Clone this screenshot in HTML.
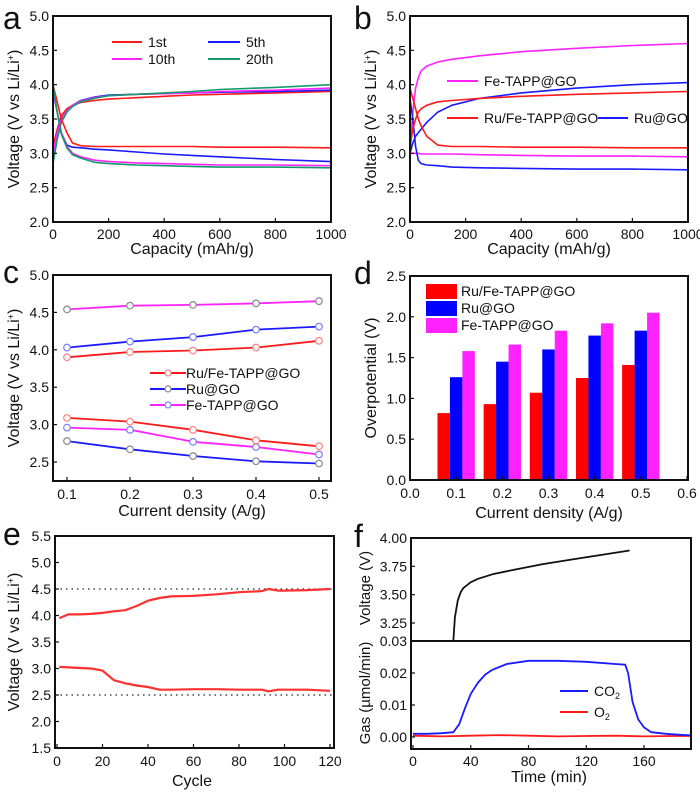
<!DOCTYPE html>
<html><head><meta charset="utf-8">
<style>
html,body{margin:0;padding:0;background:#fff;}
svg{display:block;font-family:"Liberation Sans",Arial,sans-serif;}
</style></head>
<body>
<svg id="fig" width="700" height="792" viewBox="0 0 700 792" xmlns="http://www.w3.org/2000/svg"></svg>
<script>
// ---- Panel a data (capacity mAh/g, voltage V)
const aCap = [0, 15, 30, 50, 70, 100, 150, 200, 300, 400, 500, 600, 800, 1000];
const a1stDis = [4.0, 3.75, 3.5, 3.3, 3.15, 3.11, 3.1, 3.1, 3.1, 3.1, 3.1, 3.09, 3.09, 3.08];
const a1stChg = [3.1, 3.35, 3.55, 3.65, 3.7, 3.74, 3.77, 3.79, 3.81, 3.83, 3.85, 3.86, 3.88, 3.9];
const a5thDis = [3.9, 3.6, 3.3, 3.12, 3.09, 3.08, 3.06, 3.05, 3.02, 2.99, 2.97, 2.95, 2.91, 2.88];
const a5thChg = [3.0, 3.3, 3.5, 3.62, 3.7, 3.77, 3.82, 3.85, 3.86, 3.87, 3.88, 3.89, 3.9, 3.92];
const a10thDis = [3.95, 3.6, 3.3, 3.1, 3.0, 2.95, 2.9, 2.88, 2.86, 2.85, 2.84, 2.83, 2.83, 2.82];
const a10thChg = [3.0, 3.3, 3.5, 3.62, 3.7, 3.76, 3.81, 3.84, 3.86, 3.87, 3.88, 3.9, 3.92, 3.95];
const a20thDis = [4.0, 3.6, 3.28, 3.08, 2.98, 2.93, 2.87, 2.85, 2.83, 2.82, 2.81, 2.8, 2.8, 2.79];
const a20thChg = [2.85, 3.2, 3.45, 3.6, 3.68, 3.75, 3.8, 3.84, 3.86, 3.88, 3.9, 3.93, 3.96, 4.0];
// ---- Panel b data
const bCap = [0, 10, 20, 30, 40, 60, 100, 150, 250, 400, 600, 800, 1000];
const bFeChg = [3.0, 3.6, 3.95, 4.1, 4.2, 4.27, 4.33, 4.37, 4.42, 4.48, 4.53, 4.57, 4.6];
const bFeDis = [3.0, 3.0, 3.0, 3.0, 2.99, 2.99, 2.99, 2.99, 2.98, 2.97, 2.96, 2.96, 2.95];
const bRuFeChg = [3.1, 3.35, 3.5, 3.6, 3.65, 3.7, 3.75, 3.77, 3.8, 3.83, 3.86, 3.88, 3.9];
const bRuFeDis = [3.95, 3.8, 3.65, 3.5, 3.4, 3.25, 3.12, 3.1, 3.1, 3.09, 3.09, 3.08, 3.08];
const bRuChg = [3.0, 3.15, 3.25, 3.3, 3.35, 3.45, 3.6, 3.7, 3.8, 3.88, 3.95, 4.0, 4.03];
const bRuDis = [3.8, 3.5, 3.1, 2.9, 2.85, 2.83, 2.82, 2.8, 2.79, 2.78, 2.77, 2.77, 2.76];
// ---- Panel c data
const cDensity = [0.1, 0.2, 0.3, 0.4, 0.5];
const cRuFeChg = [3.90, 3.97, 3.99, 4.03, 4.12];
const cRuFeDis = [3.09, 3.04, 2.93, 2.79, 2.71];
const cRuChg = [4.03, 4.11, 4.17, 4.27, 4.31];
const cRuDis = [2.78, 2.67, 2.58, 2.51, 2.48];
const cFeChg = [4.54, 4.59, 4.60, 4.62, 4.65];
const cFeDis = [2.96, 2.93, 2.77, 2.70, 2.60];
// ---- Panel d data
const dDensity = [0.1, 0.2, 0.3, 0.4, 0.5];
const dRuFe = [0.82, 0.93, 1.07, 1.25, 1.41];
const dRu = [1.26, 1.45, 1.60, 1.77, 1.83];
const dFe = [1.58, 1.66, 1.83, 1.92, 2.05];
// ---- Panel e data
const eCycle = [1, 5, 10, 15, 20, 25, 30, 35, 40, 45, 50, 60, 70, 80, 90, 93, 97, 100, 110, 120];
const eCharge = [3.95, 4.02, 4.02, 4.03, 4.05, 4.08, 4.1, 4.18, 4.28, 4.33, 4.36, 4.37, 4.4, 4.44, 4.46, 4.5, 4.47, 4.47, 4.48, 4.5];
const eDischarge = [3.03, 3.02, 3.01, 3.0, 2.96, 2.78, 2.72, 2.68, 2.65, 2.6, 2.6, 2.61, 2.61, 2.6, 2.6, 2.57, 2.6, 2.6, 2.6, 2.58];
// ---- Panel f data
const fTimeV = [28, 29, 31, 33, 35, 40, 45, 55, 70, 90, 110, 130, 150];
const fVoltage = [3.1, 3.3, 3.45, 3.52, 3.56, 3.61, 3.64, 3.68, 3.72, 3.77, 3.81, 3.85, 3.89];
const fTimeG = [0, 10, 20, 28, 32, 36, 40, 45, 50, 55, 65, 80, 100, 120, 140, 147, 149, 152, 156, 160, 165, 175, 185, 193];
const fCO2 = [0.001, 0.001, 0.0012, 0.0015, 0.004, 0.009, 0.0135, 0.017, 0.0195, 0.021, 0.0228, 0.0238, 0.0238, 0.0235, 0.0228, 0.0226, 0.02, 0.011, 0.0055, 0.003, 0.0015, 0.001, 0.0007, 0.0005];
const fTimeO = [0, 20, 40, 60, 80, 100, 120, 140, 160, 180, 193];
const fO2 = [0.0004, 0.0002, 0.0004, 0.0006, 0.0004, 0.0002, 0.0003, 0.0004, 0.0002, 0.0003, 0.0003];

const RED = '#ff1a1a', BLUE = '#1a1aff', MAG = '#ff22ff', GRN = '#159a6a';
const TICK = 14, TITLE = 16;
const svg = document.getElementById('fig');
const NS = 'http://www.w3.org/2000/svg';
function mk(tag, attrs, parent) {
  const e = document.createElementNS(NS, tag);
  for (const k in attrs) e.setAttribute(k, attrs[k]);
  (parent || svg).appendChild(e);
  return e;
}
function lin(d0, d1, r0, r1) { return v => r0 + (v - d0) / (d1 - d0) * (r1 - r0); }
function txt(x, y, s, size, anchor, name, parent, rot) {
  const t = mk('text', {x: x, y: y, 'font-size': size, 'text-anchor': anchor || 'middle', fill: '#111'}, parent);
  if (rot) t.setAttribute('transform', 'rotate(-90 ' + x + ' ' + y + ')');
  t.innerHTML = s;
  
  
  return t;
}
function axesBox(L, T, R, B, name) {
  const r = mk('rect', {x: L, y: T, width: R - L, height: B - T, fill: 'none', stroke: '#111', 'stroke-width': 2});
  
  
}
function yTicks(vals, labels, sy, L, R, name) {
  vals.forEach((v, i) => {
    const y = sy(v);
    mk('line', {x1: L, x2: L + 4, y1: y, y2: y, stroke: '#111', 'stroke-width': 1.2});
    txt(L - 4, y + 5, labels[i], TICK, 'end', name);
  });
}
function xTicks(vals, labels, sx, B, ly, name) {
  vals.forEach((v, i) => {
    const x = sx(v);
    mk('line', {x1: x, x2: x, y1: B, y2: B - 4, stroke: '#111', 'stroke-width': 1.2});
    txt(x, ly, labels[i], TICK, 'middle', name);
  });
}
function poly(xs, ys, sx, sy, color, w, name) {
  const pts = xs.map((x, i) => sx(x).toFixed(1) + ',' + sy(ys[i]).toFixed(1)).join(' ');
  const p = mk('polyline', {points: pts, fill: 'none', stroke: color, 'stroke-width': w || 1.6, 'stroke-linejoin': 'round'});
  
  
  return p;
}
function legLine(x1, x2, y, color, name) {
  const l = mk('line', {x1: x1, x2: x2, y1: y, y2: y, stroke: color, 'stroke-width': 2});
  
  
}
function panelLabel(x, y, s, name) {
  txt(x, y, s, 32, 'start', name);
}
const vTicks = [2.0, 2.5, 3.0, 3.5, 4.0, 4.5, 5.0];
const vTickLabels = ['2.0', '2.5', '3.0', '3.5', '4.0', '4.5', '5.0'];
const capTicks = [0, 200, 400, 600, 800, 1000];
const capTickLabels = ['0', '200', '400', '600', '800', '1000'];
const YT = 'Voltage (V vs Li/Li<tspan baseline-shift="super" font-size="9">+</tspan>)';

// ===== Panel a
(function () {
  const L = 53, R = 331, T = 16, B = 222;
  const sx = lin(0, 1000, L, R), sy = lin(2, 5, B, T);
  panelLabel(3, 29, 'a', 'panel-a-label');
  poly(aCap, a1stChg, sx, sy, RED, 1.6, 'series-1st-charge');
  poly(aCap, a5thChg, sx, sy, BLUE, 1.6, 'series-5th-charge');
  poly(aCap, a10thChg, sx, sy, MAG, 1.6, 'series-10th-charge');
  poly(aCap, a20thChg, sx, sy, GRN, 1.6, 'series-20th-charge');
  poly(aCap, a1stDis, sx, sy, RED, 1.6, 'series-1st-discharge');
  poly(aCap, a5thDis, sx, sy, BLUE, 1.6, 'series-5th-discharge');
  poly(aCap, a10thDis, sx, sy, MAG, 1.6, 'series-10th-discharge');
  poly(aCap, a20thDis, sx, sy, GRN, 1.6, 'series-20th-discharge');
  axesBox(L, T, R, B, 'panel-a-axes');
  yTicks(vTicks, vTickLabels, sy, L, R, 'y-tick-label');
  xTicks(capTicks, capTickLabels, sx, B, 239, 'x-tick-label');
  txt(192, 254, 'Capacity (mAh/g)', TITLE, 'middle', 'x-axis-title');
  txt(19, 119, YT, TITLE, 'middle', 'y-axis-title', null, true);
  legLine(112, 142, 42, RED, 'legend-1st-line'); txt(148, 47, '1st', TICK, 'start', 'legend-1st');
  legLine(208, 240, 42, BLUE, 'legend-5th-line'); txt(246, 47, '5th', TICK, 'start', 'legend-5th');
  legLine(112, 142, 59, MAG, 'legend-10th-line'); txt(148, 64, '10th', TICK, 'start', 'legend-10th');
  legLine(208, 240, 59, GRN, 'legend-20th-line'); txt(246, 64, '20th', TICK, 'start', 'legend-20th');
})();

// ===== Panel b
(function () {
  const L = 410, R = 688, T = 16, B = 222;
  const sx = lin(0, 1000, L, R), sy = lin(2, 5, B, T);
  panelLabel(354, 29, 'b', 'panel-b-label');
  poly(bCap, bFeChg, sx, sy, MAG, 1.6, 'series-fe-tapp-charge');
  poly(bCap, bFeDis, sx, sy, MAG, 1.6, 'series-fe-tapp-discharge');
  poly(bCap, bRuChg, sx, sy, BLUE, 1.6, 'series-ru-go-charge');
  poly(bCap, bRuDis, sx, sy, BLUE, 1.6, 'series-ru-go-discharge');
  poly(bCap, bRuFeChg, sx, sy, RED, 1.6, 'series-ru-fe-tapp-charge');
  poly(bCap, bRuFeDis, sx, sy, RED, 1.6, 'series-ru-fe-tapp-discharge');
  axesBox(L, T, R, B, 'panel-b-axes');
  yTicks(vTicks, vTickLabels, sy, L, R, 'y-tick-label');
  xTicks(capTicks, capTickLabels, sx, B, 239, 'x-tick-label');
  txt(549, 254, 'Capacity (mAh/g)', TITLE, 'middle', 'x-axis-title');
  txt(376, 119, YT, TITLE, 'middle', 'y-axis-title', null, true);
  legLine(447, 478, 81, MAG, 'legend-fe-tapp-line'); txt(484, 86, 'Fe-TAPP@GO', TICK, 'start', 'legend-fe-tapp');
  legLine(447, 478, 118, RED, 'legend-ru-fe-line'); txt(484, 123, 'Ru/Fe-TAPP@GO', TICK, 'start', 'legend-ru-fe');
  legLine(598, 628, 118, BLUE, 'legend-ru-go-line'); txt(634, 123, 'Ru@GO', TICK, 'start', 'legend-ru-go');
})();

// ===== Panel c
(function () {
  const L = 53, R = 331, T = 275, B = 481;
  const sx = lin(0.1, 0.5, 67, 319), sy = lin(2.5, 5, 462, 275);
  panelLabel(3, 283, 'c', 'panel-c-label');
  const series = [
    [cFeChg, MAG, '#888', 'fe-tapp-charge'], [cFeDis, MAG, '#7a7aff', 'fe-tapp-discharge'],
    [cRuChg, BLUE, '#7a7aff', 'ru-go-charge'], [cRuDis, BLUE, '#888', 'ru-go-discharge'],
    [cRuFeChg, RED, '#ff8080', 'ru-fe-charge'], [cRuFeDis, RED, '#ff8080', 'ru-fe-discharge']];
  series.forEach(s => {
    poly(cDensity, s[0], sx, sy, s[1], 1.8, 'series-' + s[3]);
    cDensity.forEach((d, i) => {
      const c = mk('circle', {cx: sx(d), cy: sy(s[0][i]), r: 3.3, fill: '#fff', stroke: s[2], 'stroke-width': 1.2});
      
      
    });
  });
  axesBox(L, T, R, B, 'panel-c-axes');
  yTicks([2.5, 3.0, 3.5, 4.0, 4.5, 5.0], ['2.5', '3.0', '3.5', '4.0', '4.5', '5.0'], sy, L, R, 'y-tick-label');
  xTicks(cDensity, ['0.1', '0.2', '0.3', '0.4', '0.5'], sx, B, 499, 'x-tick-label');
  txt(192, 516, 'Current density (A/g)', TITLE, 'middle', 'x-axis-title');
  txt(19, 378, YT, TITLE, 'middle', 'y-axis-title', null, true);
  [[373, RED, '#ff8080', 'Ru/Fe-TAPP@GO', 'legend-ru-fe'], [389, BLUE, '#888', 'Ru@GO', 'legend-ru-go'], [405, MAG, '#7a7aff', 'Fe-TAPP@GO', 'legend-fe-tapp']].forEach(l => {
    legLine(150, 186, l[0], l[1], l[4] + '-line');
    mk('circle', {cx: 168, cy: l[0], r: 3, fill: '#fff', stroke: l[2], 'stroke-width': 1.2});
    txt(186, l[0] + 5, l[3], TICK, 'start', l[4]);
  });
})();

// ===== Panel d
(function () {
  const L = 410, R = 688, T = 276, B = 480;
  const sx = lin(0, 0.6, L, 687), sy = lin(0, 2.5, B, T);
  panelLabel(354, 284, 'd', 'panel-d-label');
  const bw = 0.027;
  [[dRuFe, '#ff0000', -1, 'bar-ru-fe'], [dRu, '#0000ff', 0, 'bar-ru-go'], [dFe, '#ff22ff', 1, 'bar-fe-tapp']].forEach(s => {
    dDensity.forEach((d, i) => {
      const x0 = sx(d + s[2] * bw - bw / 2), x1 = sx(d + s[2] * bw + bw / 2);
      const r = mk('rect', {x: x0, y: sy(s[0][i]), width: x1 - x0, height: sy(0) - sy(s[0][i]), fill: s[1]});
      
      
    });
  });
  axesBox(L, T, R, B, 'panel-d-axes');
  yTicks([0, 0.5, 1.0, 1.5, 2.0, 2.5], ['0.0', '0.5', '1.0', '1.5', '2.0', '2.5'], sy, L, R, 'y-tick-label');
  xTicks([0, 0.1, 0.2, 0.3, 0.4, 0.5, 0.6], ['0.0', '0.1', '0.2', '0.3', '0.4', '0.5', '0.6'], sx, B, 498, 'x-tick-label');
  txt(549, 518, 'Current density (A/g)', TITLE, 'middle', 'x-axis-title');
  txt(376, 378, 'Overpotential (V)', TITLE, 'middle', 'y-axis-title', null, true);
  [[284, '#ff0000', 'Ru/Fe-TAPP@GO', 'legend-ru-fe'], [301, '#0000ff', 'Ru@GO', 'legend-ru-go'], [318, '#ff22ff', 'Fe-TAPP@GO', 'legend-fe-tapp']].forEach(l => {
    const r = mk('rect', {x: 426, y: l[0], width: 31, height: 15, fill: l[1]});
    
    
    txt(461, l[0] + 12, l[2], TICK, 'start', l[3]);
  });
})();

// ===== Panel e
(function () {
  const L = 55, R = 334, T = 536, B = 748;
  const sx = lin(0, 120, 57, 330), sy = lin(1.5, 5.5, B, T);
  panelLabel(3, 545, 'e', 'panel-e-label');
  [4.5, 2.5].forEach(v => {
    const l = mk('line', {x1: L, x2: R, y1: sy(v), y2: sy(v), stroke: '#222', 'stroke-width': 1.3, 'stroke-dasharray': '1.5 4'});
    
    
  });
  poly(eCycle, eCharge, sx, sy, '#ff3030', 2.2, 'series-charge');
  poly(eCycle, eDischarge, sx, sy, '#ff3030', 2.2, 'series-discharge');
  axesBox(L, T, R, B, 'panel-e-axes');
  yTicks([1.5, 2.0, 2.5, 3.0, 3.5, 4.0, 4.5, 5.0, 5.5], ['1.5', '2.0', '2.5', '3.0', '3.5', '4.0', '4.5', '5.0', '5.5'], sy, L, R, 'y-tick-label');
  xTicks([0, 20, 40, 60, 80, 100, 120], ['0', '20', '40', '60', '80', '100', '120'], sx, B, 766, 'x-tick-label');
  txt(192, 786, 'Cycle', TITLE, 'middle', 'x-axis-title');
  txt(19, 642, YT, TITLE, 'middle', 'y-axis-title', null, true);
})();

// ===== Panel f
(function () {
  const L = 411, R = 691, T = 538, M = 641, B = 749;
  const sx = lin(0, 160, 413, 644);
  const syV = lin(3.25, 4.0, 623, 538);
  const syG = lin(0, 0.03, 737, 641);
  panelLabel(354, 547, 'f', 'panel-f-label');
  poly(fTimeV, fVoltage, sx, syV, '#111', 1.8, 'series-voltage');
  poly(fTimeO, fO2, sx, syG, RED, 1.8, 'series-o2');
  poly(fTimeG, fCO2, sx, syG, BLUE, 1.8, 'series-co2');
  axesBox(L, T, R, M, 'panel-f-voltage-axes');
  axesBox(L, M, R, B, 'panel-f-gas-axes');
  yTicks([3.25, 3.5, 3.75, 4.0], ['3.25', '3.50', '3.75', '4.00'], syV, L, R, 'y-tick-label');
  yTicks([0, 0.01, 0.02, 0.03], ['0.00', '0.01', '0.02', '0.03'], syG, L, R, 'y-tick-label');
  xTicks([0, 40, 80, 120, 160], ['0', '40', '80', '120', '160'], sx, B, 766, 'x-tick-label');
  txt(549, 782, 'Time (min)', TITLE, 'middle', 'x-axis-title');
  txt(370, 588, 'Voltage (V)', 15, 'middle', 'y-axis-title-voltage', null, true);
  txt(370, 693, 'Gas (µmol/min)', 15, 'middle', 'y-axis-title-gas', null, true);
  legLine(560, 588, 691, BLUE, 'legend-co2-line');
  txt(594, 696, 'CO<tspan font-size="9" dy="3">2</tspan>', TICK, 'start', 'legend-co2');
  legLine(560, 588, 712, RED, 'legend-o2-line');
  txt(594, 717, 'O<tspan font-size="9" dy="3">2</tspan>', TICK, 'start', 'legend-o2');
})();
</script>
</body></html>
